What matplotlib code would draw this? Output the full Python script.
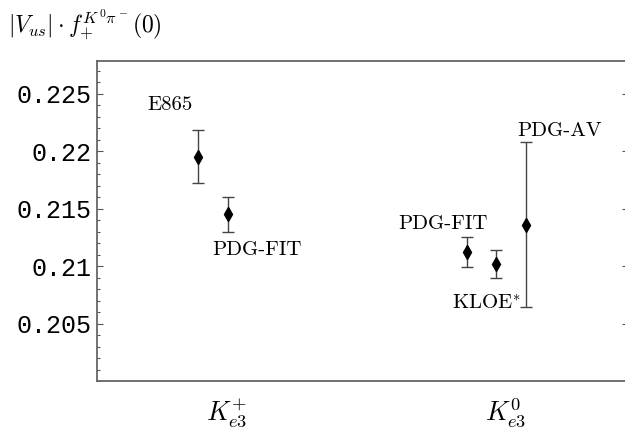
import matplotlib
matplotlib.use("Agg")
import matplotlib.pyplot as plt
import numpy as np
from matplotlib.ticker import MultipleLocator, FixedFormatter, FixedLocator

plt.rcParams['mathtext.fontset'] = 'cm'

# measurements of |Vus| f+(0)
names = ["E865", "PDG-FIT", "PDG-FIT", "KLOE$^{*}$", "PDG-AV"]
xpos = [0.897, 1.005, 1.859, 1.964, 2.071]
vals = [0.2195, 0.2145, 0.2112, 0.2102, 0.2136]
errs = [0.0023, 0.0015, 0.0013, 0.0012, 0.0072]

# label anchor points
label_x = [0.794, 1.106, 1.774, 1.928, 2.190]
label_y = [0.2240, 0.2114, 0.21365, 0.20678, 0.22174]

cats = [r"$K_{e3}^{+}$", r"$K_{e3}^{0}$"]
cat_x = [1, 2]
yticks = [0.205, 0.21, 0.215, 0.22, 0.225]
ytick_labels = ["0.205", "0.21", "0.215", "0.22", "0.225"]

fig = plt.figure(figsize=(6.25, 4.36), dpi=100)
ax = fig.add_axes([0.1552, 0.1261, 0.8496, 0.734])

ax.errorbar(xpos, vals, yerr=errs, fmt='none', ecolor='#444444',
            elinewidth=1.0, capsize=4, capthick=1.0)
ax.plot(xpos, vals, 'd', color='black', markersize=7)

for n, lx, ly in zip(names, label_x, label_y):
    ax.text(lx, ly, n, ha='center', va='center', fontsize=15,
            family='cmr10')

ax.set_xlim(0.534, 2.437)
ax.set_ylim(0.2, 0.22783)

ax.yaxis.set_major_locator(FixedLocator(yticks))
ax.yaxis.set_major_formatter(FixedFormatter(ytick_labels))
ax.yaxis.set_minor_locator(MultipleLocator(0.001))
ax.set_xticks([])

for lab in ax.get_yticklabels():
    lab.set_family('Liberation Mono')
    lab.set_fontsize(18)

ax.tick_params(axis='y', which='major', direction='in', length=4,
               width=0.8, color='#555555', right=True, pad=4)
ax.tick_params(axis='y', which='minor', direction='in', length=2.5,
               width=0.8, color='#555555')
ax.yaxis.set_tick_params(which='minor', right=False)

for s in ax.spines.values():
    s.set_color('#666666')
    s.set_linewidth(1.3)

for cx, c in zip(cat_x, cats):
    ax.text(cx, -0.1, c, transform=ax.get_xaxis_transform(),
            ha='center', va='center', fontsize=19)

fig.text(0.013, 0.943, r"$|V_{us}|\cdot f_{+}^{K^0\pi^-}(0)$",
         ha='left', va='center', fontsize=17)

fig.savefig("out.png", dpi=100)
